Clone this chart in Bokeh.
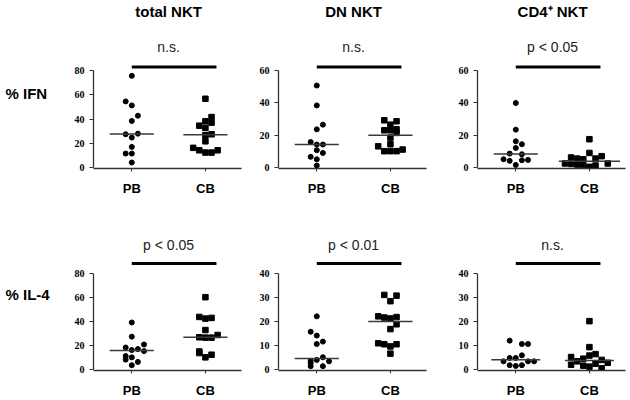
import numpy as np
from bokeh.plotting import figure
from bokeh.layouts import row, column
from bokeh.models import Range1d, FixedTicker
from bokeh.core.properties import value
from bokeh.embed import file_html
from bokeh.resources import INLINE

# ---------------- data ----------------
groups = ["PB", "CB"]
row_labels = ["% IFN", "% IL-4"]
titles = ["total NKT", "DN NKT", "CD4\u207a NKT"]
sig_ifn = ["n.s.", "n.s.", "p < 0.05"]
sig_il4 = ["p < 0.05", "p < 0.01", "n.s."]
ticks_ifn_total = [0, 20, 40, 60, 80]
ticks_ifn_dn = [0, 20, 40, 60]
ticks_ifn_cd4 = [0, 20, 40, 60]
ticks_il4_total = [0, 20, 40, 60, 80]
ticks_il4_dn = [0, 10, 20, 30, 40]
ticks_il4_cd4 = [0, 10, 20, 30, 40]

ifn_total_pb = [75.6, 54.5, 51.2, 42.7, 38.4, 27.9, 27.4, 24.7, 17.0, 11.5, 11.5, 4.1]
ifn_total_cb = [56.7, 41.6, 38.1, 37.0, 34.5, 32.6, 27.4, 26.6, 21.6, 16.2, 14.2, 12.3, 12.3, 14.2]
ifn_dn_pb = [50.7, 38.4, 26.5, 23.6, 15.8, 14.2, 14.2, 10.7, 9.0, 6.6, 5.1, 1.2]
ifn_dn_cb = [29.2, 28.6, 26.5, 23.6, 23.0, 23.0, 21.4, 18.5, 14.4, 13.1, 11.1, 10.1, 10.1, 10.1]
ifn_cd4_pb = [39.9, 23.4, 16.2, 14.4, 12.1, 8.6, 8.2, 5.1, 4.7, 4.5, 4.1, 1.6]
ifn_cd4_cb = [17.5, 9.0, 7.0, 6.2, 5.5, 5.1, 5.5, 2.5, 2.2, 1.8, 1.5, 1.2, 0.4, 2.5]
il4_total_pb = [39.1, 27.3, 20.8, 18.3, 17.0, 16.2, 15.3, 11.2, 10.1, 8.2, 6.3, 3.6]
il4_total_cb = [60.1, 43.7, 42.9, 42.3, 32.8, 28.7, 26.8, 26.5, 26.5, 15.0, 13.7, 12.3, 10.1]
il4_dn_pb = [22.1, 15.7, 14.1, 11.6, 10.6, 5.1, 4.0, 3.6, 3.4, 2.7, 1.4, 1.4]
il4_dn_cb = [31.0, 30.7, 28.4, 22.1, 21.8, 21.6, 21.2, 18.8, 16.8, 10.9, 10.5, 9.6, 10.5, 6.6]
il4_cd4_pb = [12.0, 10.6, 10.6, 5.9, 4.8, 4.8, 3.4, 3.4, 3.4, 1.8, 1.8, 1.5]
il4_cd4_cb = [20.1, 9.3, 6.4, 5.8, 5.2, 4.5, 4.0, 3.4, 2.8, 2.4, 2.0, 1.6, 1.2, 0.5]

# horizontal scatter lanes (dot-plot spreading of tied values)
lane_ifn_total_pb = [0, -1, 0, 1, 0, 1, -1, 0, 0, -1, 0, 0]
lane_ifn_total_cb = [0, 1, 0, 1, -1, 0, 1, 0, 0, -2, -1, 0, 1, 2]
lane_ifn_dn_pb = [0, 0, 1, 0, -1, 0, 1, 0, 1, -1, 0, 0]
lane_ifn_dn_cb = [-1, 1, 0, 1, -1, 0, 1, 0, 0, -2, 2, -1, 0, 1]
lane_ifn_cd4_pb = [0, 0, 0, 1, 0, -1, 1, -2, 2, 1, -1, 0]
lane_ifn_cd4_cb = [0, 0, 2, -3, -2, -1, 1, -4, -3, -2, -1, 1, 0, 3]
lane_il4_total_pb = [0, 0, 2, -1, 1, 0, 2, -1, 0, -1, 1, 0]
lane_il4_total_cb = [0, -1, 1, 0, 0, 2, -1, 0, 1, -1, -1, 1, 0]
lane_il4_dn_pb = [0, -1, 0, 1, 0, 1, 0, -1, 2, -1, -1, 1]
lane_il4_dn_cb = [-1, 1, 0, -2, 1, -1, 0, 1, 0, -2, -1, 0, 1, 0]
lane_il4_cd4_pb = [-1, 1, 2, 1, -1, 0, -2, 2, 3, -1, 1, 0]
lane_il4_cd4_cb = [0, 0, 1, 0, -3, -1, 2, -2, 3, 1, -3, -1, 0, 2]

panels = [
    [  # IFN row
        (ifn_total_pb, lane_ifn_total_pb, ifn_total_cb, lane_ifn_total_cb, ticks_ifn_total),
        (ifn_dn_pb, lane_ifn_dn_pb, ifn_dn_cb, lane_ifn_dn_cb, ticks_ifn_dn),
        (ifn_cd4_pb, lane_ifn_cd4_pb, ifn_cd4_cb, lane_ifn_cd4_cb, ticks_ifn_cd4),
    ],
    [  # IL-4 row
        (il4_total_pb, lane_il4_total_pb, il4_total_cb, lane_il4_total_cb, ticks_il4_total),
        (il4_dn_pb, lane_il4_dn_pb, il4_dn_cb, lane_il4_dn_cb, ticks_il4_dn),
        (il4_cd4_pb, lane_il4_cd4_pb, il4_cd4_cb, lane_il4_cd4_cb, ticks_il4_cd4),
    ],
]
sigs = [sig_ifn, sig_il4]

# ---------------- layout ----------------
STEP = 0.083          # lane spacing in category units
XR = (-0.52, 1.49)
ROWS = [
    dict(height=204, bottom=36, zero=167, unit=97, title=11, sig=46, bar=66.5, label=113),
    dict(height=196, bottom=27, zero=168, unit=98, title=None, sig=41, bar=60, label=106),
]
COLS = [
    dict(width=198, left=43, right=7),
    dict(width=200, left=30, right=22),
    dict(width=182, left=29, right=5),
]
LABEL_W = 50
LABEL_X = 5
SANS = "Liberation Sans"
SERIF = "Liberation Serif"
AX = "#333333"


def make_panel(r, c):
    cfg, col = ROWS[r], COLS[c]
    pb, lpb, cb, lcb, ticks = panels[r][c]
    M = ticks[-1]
    fb = cfg["height"] - cfg["bottom"]
    to_y = lambda px: (cfg["zero"] - px) / cfg["unit"] * M
    p = figure(width=col["width"], height=cfg["height"], title=None,
               x_range=Range1d(*XR),
               y_range=Range1d(-(fb - cfg["zero"]) / cfg["unit"] * M, to_y(0)),
               output_backend="svg", toolbar_location=None,
               min_border_left=col["left"], min_border_right=col["right"],
               min_border_top=0, min_border_bottom=cfg["bottom"],
               outline_line_color=None, background_fill_color=None,
               border_fill_color=None)
    p.grid.visible = False

    xa = p.xaxis[0]
    xa.ticker = FixedTicker(ticks=[0, 1])
    xa.major_label_overrides = {0: groups[0], 1: groups[1]}
    xa.major_label_text_font = SANS
    xa.major_label_text_font_style = "bold"
    xa.major_label_text_font_size = "13px"
    xa.major_label_text_color = "black"
    xa.major_label_standoff = 9
    xa.axis_line_color = AX
    xa.axis_line_width = 1.3
    xa.major_tick_line_color = AX
    xa.major_tick_out = 3
    xa.major_tick_in = 0
    xa.minor_tick_line_color = None

    ya = p.yaxis[0]
    ya.ticker = FixedTicker(ticks=ticks)
    ya.bounds = (0, M)
    ya.major_label_text_font = SERIF
    ya.major_label_text_font_style = "bold"
    ya.major_label_text_font_size = "10px"
    ya.major_label_text_color = "black"
    ya.major_label_standoff = 5
    ya.axis_line_color = AX
    ya.axis_line_width = 1.3
    ya.major_tick_line_color = AX
    ya.major_tick_out = 4
    ya.major_tick_in = 0
    ya.minor_tick_line_color = None

    for cat, vals, lanes, marker, size in [(0, pb, lpb, "circle", 5), (1, cb, lcb, "square", 5.5)]:
        xs = [cat + l * STEP for l in lanes]
        p.scatter(xs, vals, marker=marker, size=size, color="black")
        med = float(np.median(vals))
        hw = max(0.3, (max(abs(l) for l in lanes) + 1) * STEP)
        p.segment(x0=[cat - hw], y0=[med], x1=[cat + hw], y1=[med],
                  line_color="#3a3a3a", line_width=1.5)

    yb = to_y(cfg["bar"])
    p.segment(x0=[0], y0=[yb], x1=[1.15], y1=[yb], line_color="black", line_width=3)
    p.text(x=[0.5], y=[to_y(cfg["sig"])], text=[sigs[r][c]],
           text_font=value(SANS), text_font_size="14px", text_color="#222222",
           text_align="center", text_baseline="middle")
    if cfg["title"] is not None:
        p.text(x=[0.5], y=[to_y(cfg["title"])], text=[titles[c]],
               text_font=value(SANS), text_font_size="15px", text_font_style="bold",
               text_color="black", text_align="center", text_baseline="middle")
    return p


def make_label(r):
    cfg = ROWS[r]
    H = cfg["height"]
    p = figure(width=LABEL_W, height=H, title=None,
               x_range=Range1d(0, LABEL_W), y_range=Range1d(0, H),
               x_axis_location=None, y_axis_location=None,
               output_backend="svg", toolbar_location=None,
               min_border=0, outline_line_color=None,
               background_fill_color=None, border_fill_color=None)
    p.grid.visible = False
    p.text(x=[LABEL_X], y=[H - cfg["label"]], text=[row_labels[r]],
           text_font=value(SANS), text_font_size="15px", text_font_style="bold",
           text_color="black", text_align="left", text_baseline="middle")
    return p


rows = []
for r in range(2):
    rows.append(row(make_label(r), *[make_panel(r, c) for c in range(3)]))
layout = column(*rows)

open("out.html", "w").write(file_html(layout, INLINE))
